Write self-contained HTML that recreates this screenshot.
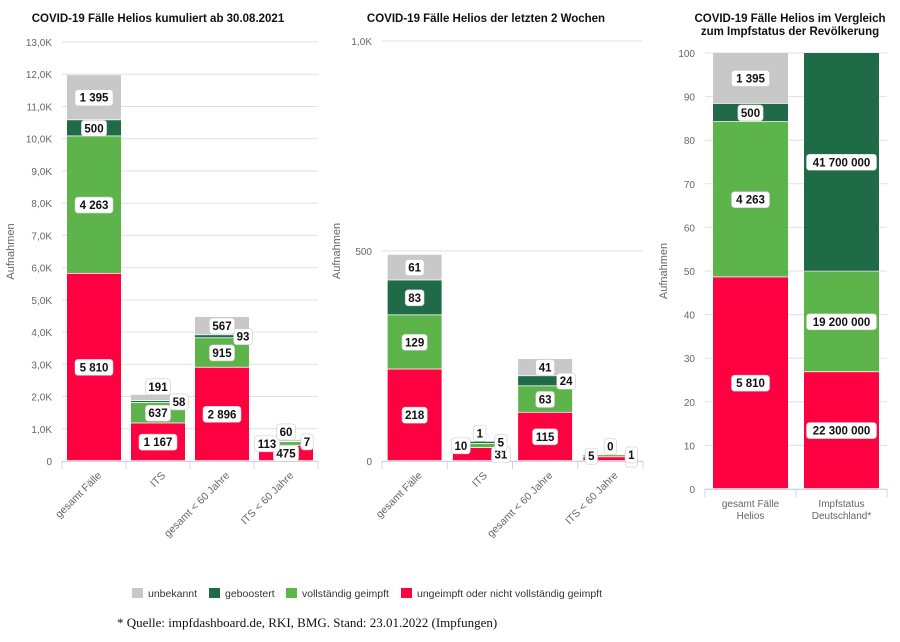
<!DOCTYPE html>
<html><head><meta charset="utf-8">
<style>
html,body{margin:0;padding:0;background:#fff;width:900px;height:642px;overflow:hidden;font-family:"Liberation Sans",sans-serif}
svg text{font-family:"Liberation Sans",sans-serif}
</style></head>
<body>
<svg id="svg" width="900" height="642" viewBox="0 0 900 642">
  <text x="158" y="22" text-anchor="middle" font-size="11.5" font-weight="bold" fill="#111">COVID-19 Fälle Helios kumuliert ab 30.08.2021</text>
  <text x="486" y="22" text-anchor="middle" font-size="11.5" font-weight="bold" fill="#111">COVID-19 Fälle Helios der letzten 2 Wochen</text>
  <text x="790" y="22" text-anchor="middle" font-size="11.5" font-weight="bold" fill="#111">COVID-19 Fälle Helios im Vergleich</text>
  <text x="790" y="35" text-anchor="middle" font-size="11.5" font-weight="bold" fill="#111">zum Impfstatus der Revölkerung</text>
  <g>
    <rect x="132" y="588" width="11" height="10" fill="#c8c8c8"/>
    <text x="148" y="597" font-size="10.5" fill="#333">unbekannt</text>
    <rect x="209" y="588" width="11" height="10" fill="#1f6a47"/>
    <text x="225" y="597" font-size="10.5" fill="#333">geboostert</text>
    <rect x="286" y="588" width="11" height="10" fill="#5db44b"/>
    <text x="302" y="597" font-size="10.5" fill="#333">vollständig geimpft</text>
    <rect x="401" y="588" width="11" height="10" fill="#ff0040"/>
    <text x="417" y="597" font-size="10.5" fill="#333">ungeimpft oder nicht vollständig geimpft</text>
  </g>
  <text x="117" y="627" font-size="13" fill="#111" style="font-family:'Liberation Serif',serif">* Quelle: impfdashboard.de, RKI, BMG. Stand: 23.01.2022 (Impfungen)</text>
</svg>
<script>
const colors = ["#ff0040","#5db44b","#1f6a47","#c8c8c8"];
const seriesNames = ["ungeimpft","vollstaendig","geboostert","unbekannt"];
// Chart 1
const c1Categories = ["gesamt Fälle","ITS","gesamt < 60 Jahre","ITS < 60 Jahre"];
const c1Ungeimpft = [5810,1167,2896,475];
const c1Vollstaendig = [4263,637,915,113];
const c1Geboostert = [500,58,93,7];
const c1Unbekannt = [1395,191,567,60];
const c1Ticks = [0,1000,2000,3000,4000,5000,6000,7000,8000,9000,10000,11000,12000,13000];
const c1TickLabels = ["0","1,0K","2,0K","3,0K","4,0K","5,0K","6,0K","7,0K","8,0K","9,0K","10,0K","11,0K","12,0K","13,0K"];
// Chart 2
const c2Categories = ["gesamt Fälle","ITS","gesamt < 60 Jahre","ITS < 60 Jahre"];
const c2Ungeimpft = [218,31,115,9];
const c2Vollstaendig = [129,10,63,5];
const c2Geboostert = [83,5,24,1];
const c2Unbekannt = [61,1,41,0];
const c2Ticks = [0,500,1000];
const c2TickLabels = ["0","500","1,0K"];
// Chart 3 (percent stacking)
const c3Categories = [["gesamt Fälle","Helios"],["Impfstatus","Deutschland*"]];
const c3Ungeimpft = [5810,22300000];
const c3Vollstaendig = [4263,19200000];
const c3Geboostert = [500,41700000];
const c3Unbekannt = [1395,0];
const c3Labels = [["5 810","4 263","500","1 395"],["22 300 000","19 200 000","41 700 000",""]];
const c3Ticks = [0,10,20,30,40,50,60,70,80,90,100];

const svg = document.getElementById('svg');
const NS = "http://www.w3.org/2000/svg";
function mk(tag, attrs){const e=document.createElementNS(NS,tag);for(const k in attrs)e.setAttribute(k,attrs[k]);return e;}
function fmt(v){return String(v).replace(/\B(?=(\d{3})+(?!\d))/g," ");}

function label(g, x, y, txt){
  const w = txt.length*6.4+6;
  const r = mk('rect',{x:x-w/2,y:y-8,width:w,height:16,rx:3,fill:'#fff',stroke:'#ccc','stroke-width':0.6});
  
  
  g.appendChild(r);
  const t = mk('text',{x:x,y:y+4,'text-anchor':'middle','font-size':11.5,'font-weight':'bold',fill:'#111'});
  t.textContent = txt;
  
  
  g.appendChild(t);
}

function chart(o){
  const g = mk('g',{});
  
  
  svg.appendChild(g);
  const y = v => o.y0 - (v - o.min)/(o.max - o.min)*(o.y0 - o.y1);
  o.ticks.forEach((t,i)=>{
    const gl = mk('line',{x1:o.x0,x2:o.x1,y1:y(t),y2:y(t),stroke:'#e0e0e0','stroke-width':1});
    
    
    g.appendChild(gl);
    const tl = mk('text',{x:o.x0-10,y:y(t)+4,'text-anchor':'end','font-size':10,fill:'#666'});
    tl.textContent = o.tickLabels[i];
    
    
    g.appendChild(tl);
  });
  const yt = mk('text',{x:0,y:0,'text-anchor':'middle','font-size':11,fill:'#666',transform:`translate(${o.yTitleX},${(o.y0+o.y1)/2}) rotate(-90)`});
  yt.textContent = 'Aufnahmen';
  
  
  g.appendChild(yt);
  const n = o.cats.length, cw = (o.x1-o.x0)/n;
  const ax = mk('line',{x1:o.x0,x2:o.x1,y1:o.y0+0.5,y2:o.y0+0.5,stroke:'#ccd6eb'});
  
  
  g.appendChild(ax);
  for(let i=0;i<=n;i++){
    const tk = mk('line',{x1:o.x0+i*cw,x2:o.x0+i*cw,y1:o.y0,y2:o.y0+8,stroke:'#ccd6eb'});
    
    
    g.appendChild(tk);
  }
  const lg = mk('g',{}); 
  o.cats.forEach((c,i)=>{
    const cx = o.x0 + cw*(i+0.5);
    const vals = o.series.map(s=>s[i]);
    const tot = vals.reduce((a,b)=>a+b,0);
    let acc = 0;
    vals.forEach((v,k)=>{
      const sv = o.percent ? v/tot*100 : v;
      const yb = y(acc), yt2 = y(acc+sv);
      acc += sv;
      if(v<=0 && o.percent) return;
      if(v>0){
        const r = mk('rect',{x:cx-o.bw/2,y:yt2,width:o.bw,height:Math.max(0,yb-yt2-0.8),fill:colors[k]});
        
        
        g.appendChild(r);
      }
      const h = yb-yt2;
      const txt = o.labels ? o.labels[i][k] : fmt(v);
      let lx = cx, ly = (yb+yt2)/2;
      if(h<14 && !o.percent){ lx = cx + o.bw/2 - 6; if(k===3){lx=cx; ly=yt2-8;} if(k===1){lx=cx-o.bw/2+8;} }
      if(txt) label(lg, lx, ly, txt);
    });
    if(Array.isArray(c)){
      c.forEach((line,j)=>{
        const t = mk('text',{x:cx,y:o.y0+18+j*12,'text-anchor':'middle','font-size':10,fill:'#666'});
        t.textContent = line;
        
        
        g.appendChild(t);
      });
    } else {
      const t = mk('text',{x:0,y:0,'text-anchor':'end','font-size':10.5,fill:'#666',transform:`translate(${cx+8},${o.y0+15}) rotate(-45)`});
      t.textContent = c;
      
      
      g.appendChild(t);
    }
  });
  g.appendChild(lg);
}

chart({name:'chart-kumuliert',cats:c1Categories,series:[c1Ungeimpft,c1Vollstaendig,c1Geboostert,c1Unbekannt],
  ticks:c1Ticks,tickLabels:c1TickLabels,min:0,max:13000,x0:62,x1:318,y0:461,y1:42,bw:54,yTitleX:14});
chart({name:'chart-2-wochen',cats:c2Categories,series:[c2Ungeimpft,c2Vollstaendig,c2Geboostert,c2Unbekannt],
  ticks:c2Ticks,tickLabels:c2TickLabels,min:0,max:1000,x0:382,x1:643,y0:461,y1:41,bw:54,yTitleX:340});
chart({name:'chart-vergleich',cats:c3Categories,series:[c3Ungeimpft,c3Vollstaendig,c3Geboostert,c3Unbekannt],
  ticks:c3Ticks,tickLabels:c3Ticks.map(String),min:0,max:100,x0:705,x1:887,y0:489,y1:53,bw:75,yTitleX:667,percent:true,labels:c3Labels});
</script>
</body></html>
